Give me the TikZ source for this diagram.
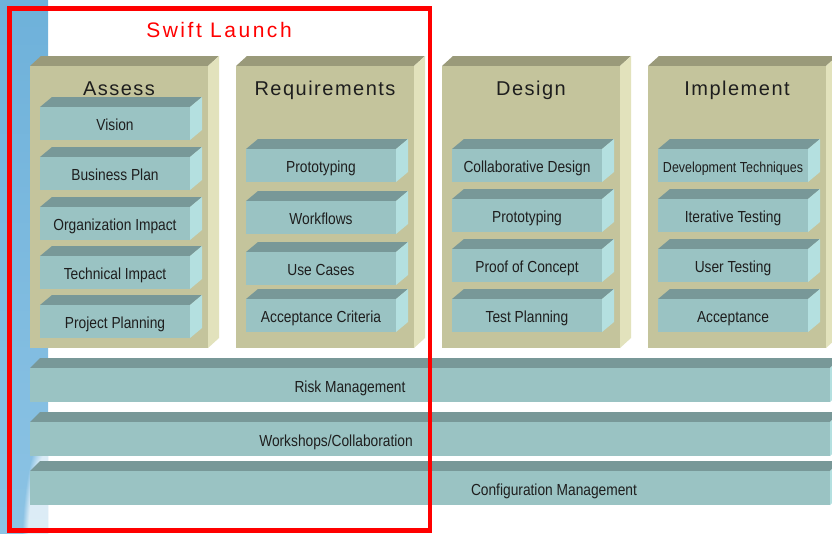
\documentclass[tikz,border=0pt]{standalone}
\usepackage{fontspec}
\setmainfont{Liberation Sans}
\newfontfamily\itemfont[FakeStretch=0.86]{Liberation Sans}
\newfontfamily\titlefont[LetterSpace=7.5]{Liberation Sans}
\newfontfamily\swiftfont[LetterSpace=12]{Liberation Sans}
\usetikzlibrary{fadings}
\definecolor{olfront}{HTML}{C4C49C}
\definecolor{oltop}{HTML}{9A9A7A}
\definecolor{olside}{HTML}{E2E2BC}
\definecolor{tlfront}{HTML}{9AC3C3}
\definecolor{tltop}{HTML}{789898}
\definecolor{tlside}{HTML}{B4E0E0}
\definecolor{stripA}{HTML}{6EB1DA}
\definecolor{stripB}{HTML}{8CC3E4}
\definecolor{txt}{HTML}{1E1E1E}
\definecolor{redline}{HTML}{FF0000}
% #1 x, #2 y (front top-left), #3 w, #4 h, #5 dx, #6 dy, #7 colour prefix
\newcommand{\threed}[7]{%
  \fill[#7top] (#1,#2) -- ++(#5,-#6) -- ++(#3,0) -- ++(-#5,#6) -- cycle;
  \fill[#7side] (#1+#3,#2) -- ++(#5,-#6) -- ++(0,#4) -- ++(-#5,#6) -- cycle;
  \fill[#7front] (#1,#2) rectangle ++(#3,#4);
}
% teal item: #1 x, #2 y, #3 name, #4 text
\newcommand{\tealitem}[4]{%
  \threed{#1}{#2}{150}{33}{12}{10}{tl}
  \node[itemlabel] (#3) at (#1+75,#2+23) {#4};
}
\tikzset{
  itemlabel/.style={anchor=base, inner sep=0pt, text=txt, font=\itemfont\fontsize{16}{18}\selectfont},
  titlelabel/.style={anchor=base, inner sep=0pt, text=txt, font=\titlefont\fontsize{20}{22}\selectfont},
}
\begin{document}
\begin{tikzpicture}[x=1pt,y=-1pt]
\useasboundingbox (0,0) rectangle (832,533);
\clip (0,0) rectangle (832,533);
\fill[white] (0,0) rectangle (832,533);
% blue strip
\shade[top color=stripA, bottom color=stripB] (0,0) rectangle (48,533);
\begin{scope}
  \clip (0,0) rectangle (48,533);
  \fill[white, opacity=0.7, path fading=circle with fuzzy edge 20 percent] (52,545) ellipse (30pt and 120pt);
\end{scope}
% columns
\threed{30}{66}{178}{282}{11}{10}{ol}
\threed{236}{66}{178}{282}{11}{10}{ol}
\threed{442}{66}{178}{282}{11}{10}{ol}
\threed{648}{66}{178}{282}{11}{10}{ol}
\node[titlelabel] (assess) at (119,95) {Assess};
\node[titlelabel] (requirements) at (325,95) {Requirements};
\node[titlelabel] (design) at (531,95) {Design};
\node[titlelabel] (implement) at (737,95) {Implement};
% assess items
\tealitem{40}{107}{vision}{Vision}
\tealitem{40}{157}{bplan}{Business Plan}
\tealitem{40}{207}{orgimpact}{Organization Impact}
\tealitem{40}{256}{techimpact}{Technical Impact}
\tealitem{40}{305}{projplan}{Project Planning}
% requirements items
\tealitem{246}{149}{proto1}{Prototyping}
\tealitem{246}{201}{workflows}{Workflows}
\tealitem{246}{252}{usecases}{Use Cases}
\tealitem{246}{299}{acccrit}{Acceptance Criteria}
% design items
\tealitem{452}{149}{collab}{Collaborative Design}
\tealitem{452}{199}{proto2}{Prototyping}
\tealitem{452}{249}{poc}{Proof of Concept}
\tealitem{452}{299}{testplan}{Test Planning}
% implement items
\threed{658}{149}{150}{33}{12}{10}{tl}
\node[itemlabel, font=\itemfont\fontsize{14.5}{16}\selectfont] (devtech) at (733,172) {Development Techniques};
\tealitem{658}{199}{itertest}{Iterative Testing}
\tealitem{658}{249}{usertest}{User Testing}
\tealitem{658}{299}{acceptance}{Acceptance}
% bars
\threed{30}{368}{800}{34}{10}{10}{tl}
\threed{30}{422}{800}{34}{10}{10}{tl}
\threed{30}{471}{800}{34}{10}{10}{tl}
\node[itemlabel] (risk) at (350,392) {Risk Management};
\node[itemlabel] (workshops) at (336,446) {Workshops/Collaboration};
\node[itemlabel] (config) at (554,495) {Configuration Management};
% red frame
\draw[redline, line width=4.5pt] (9.5,8.5) rectangle (430,530.5);
\node[anchor=base, inner sep=0pt, text=redline, font=\swiftfont\fontsize{21}{24}\selectfont] (swift) at (219,37.7) {Swift Launch};
\end{tikzpicture}
\end{document}
